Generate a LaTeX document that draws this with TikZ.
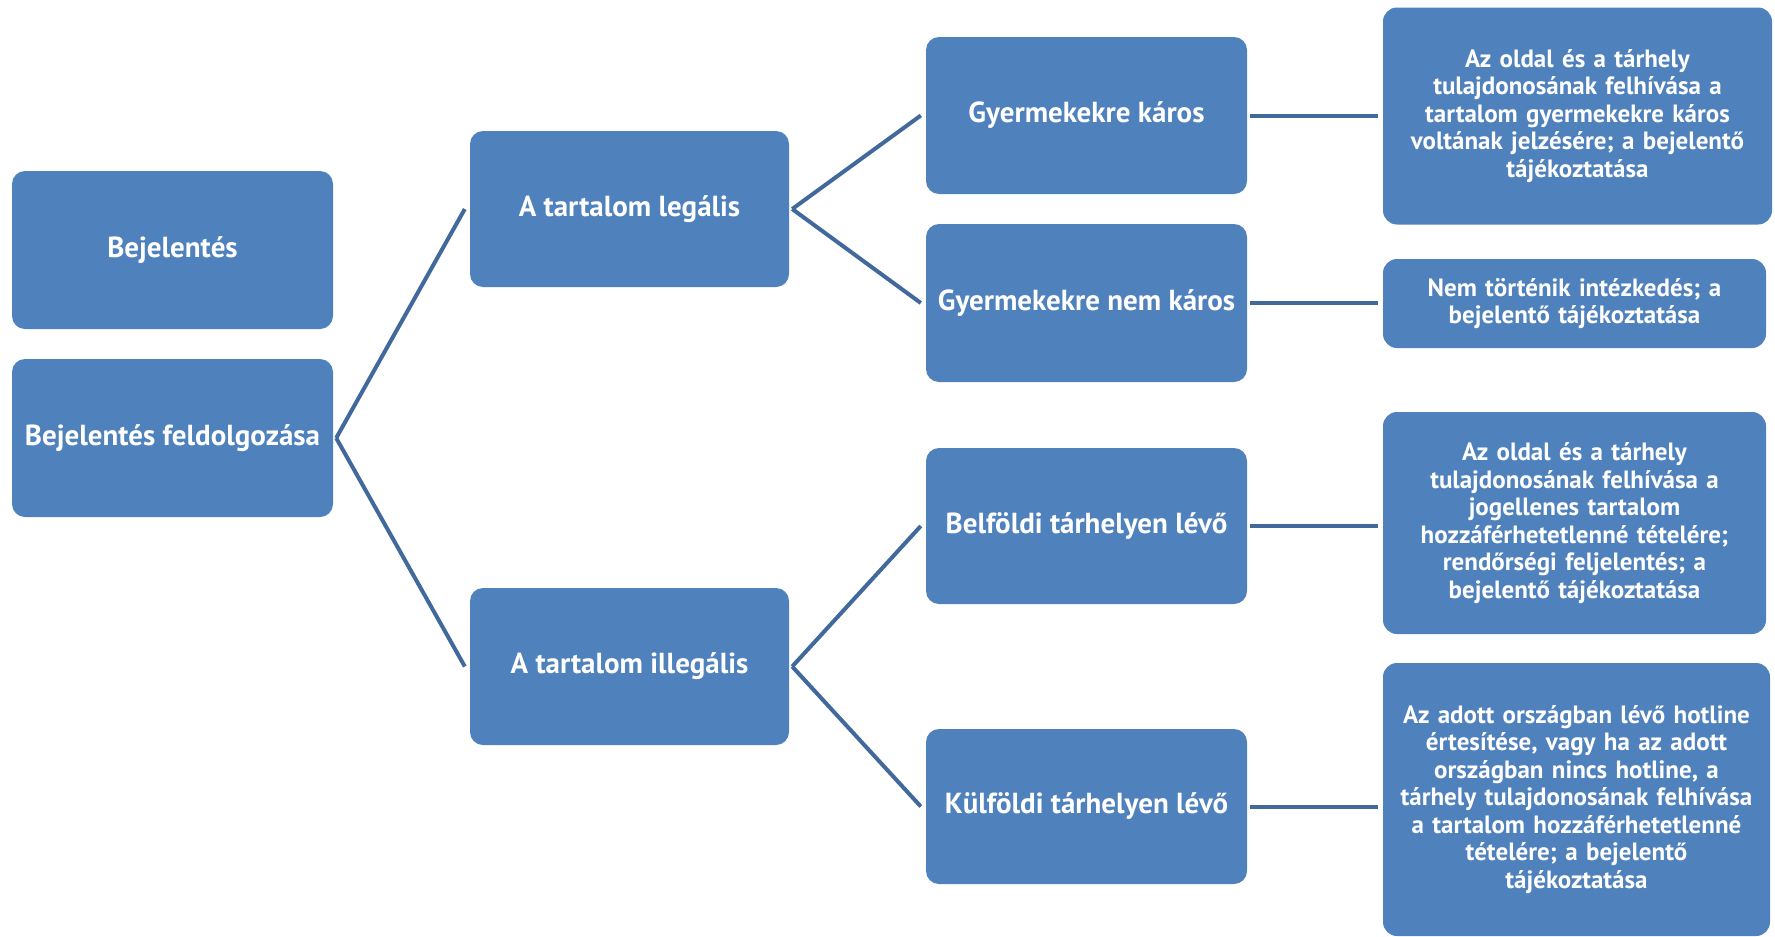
\documentclass[tikz,border=0pt]{standalone}
\usepackage{fontspec}
\setmainfont{PT Sans}
\definecolor{boxblue}{HTML}{4F81BD}
\definecolor{lineblue}{HTML}{41699C}
\begin{document}
\begin{tikzpicture}[x=1pt,y=-1pt,
  box/.style={fill=boxblue, draw=none, rounded corners=13pt, text=white, font=\bfseries\fontsize{29}{33}\selectfont, align=center, inner sep=0pt},
  rbox/.style={fill=boxblue, draw=none, rounded corners=14pt, text=white, font=\bfseries\fontsize{25}{27.5}\selectfont, align=center, inner sep=0pt, text width=375pt},
  conn/.style={draw=lineblue, line width=4pt}]
\useasboundingbox (0,0) rectangle (1775,937);
\node[box, minimum width=321pt, minimum height=158pt] (b1) at (172.5,250) {Bejelentés};
\node[box, minimum width=321pt, minimum height=158pt] (b2) at (172.5,438) {Bejelentés feldolgozása};
\node[box, minimum width=319pt, minimum height=156pt] (l) at (629.5,209) {A tartalom legális};
\node[box, minimum width=319pt, minimum height=157pt] (il) at (629.5,666.5) {A tartalom illegális};
\node[box, minimum width=321pt, minimum height=157pt] (g1) at (1086.5,115.5) {Gyermekekre káros};
\node[box, minimum width=321pt, minimum height=158pt] (g2) at (1086.5,303) {Gyermekekre nem káros};
\node[box, minimum width=321pt, minimum height=156pt] (bf) at (1086.5,526) {Belföldi tárhelyen lévő};
\node[box, minimum width=321pt, minimum height=155pt] (kf) at (1086.5,806.5) {Külföldi tárhelyen lévő};
\node[rbox, minimum width=389pt, minimum height=217pt] (r1) at (1577.5,116) {Az oldal és a tárhely\\ tulajdonosának felhívása a\\ tartalom gyermekekre káros\\ voltának jelzésére; a bejelentő\\ tájékoztatása};
\node[rbox, minimum width=383pt, minimum height=89pt] (r2) at (1574.5,303.5) {Nem történik intézkedés; a\\ bejelentő tájékoztatása};
\node[rbox, minimum width=383pt, minimum height=222pt] (r3) at (1574.5,523) {Az oldal és a tárhely\\ tulajdonosának felhívása a\\ jogellenes tartalom\\ hozzáférhetetlenné tételére;\\ rendőrségi feljelentés; a\\ bejelentő tájékoztatása};
\node[rbox, minimum width=387pt, minimum height=273pt] (r4) at (1576.5,799.5) {Az adott országban lévő hotline\\ értesítése, vagy ha az adott\\ országban nincs hotline, a\\ tárhely tulajdonosának felhívása\\ a tartalom hozzáférhetetlenné\\ tételére; a bejelentő\\ tájékoztatása};
\draw[conn] ([xshift=3pt]b2.east) -- ([xshift=-5pt]l.west);
\draw[conn] ([xshift=3pt]b2.east) -- ([xshift=-5pt]il.west);
\draw[conn] ([xshift=3pt]l.east) -- ([xshift=-5pt]g1.west);
\draw[conn] ([xshift=3pt]l.east) -- ([xshift=-5pt]g2.west);
\draw[conn] ([xshift=3pt]il.east) -- ([xshift=-5pt]bf.west);
\draw[conn] ([xshift=3pt]il.east) -- ([xshift=-5pt]kf.west);
\draw[conn] ([xshift=3pt]g1.east) -- ([xshift=-5pt]r1.west |- g1.east);
\draw[conn] ([xshift=3pt]g2.east) -- ([xshift=-5pt]r2.west |- g2.east);
\draw[conn] ([xshift=3pt]bf.east) -- ([xshift=-5pt]r3.west |- bf.east);
\draw[conn] ([xshift=3pt]kf.east) -- ([xshift=-5pt]r4.west |- kf.east);
\end{tikzpicture}
\end{document}
